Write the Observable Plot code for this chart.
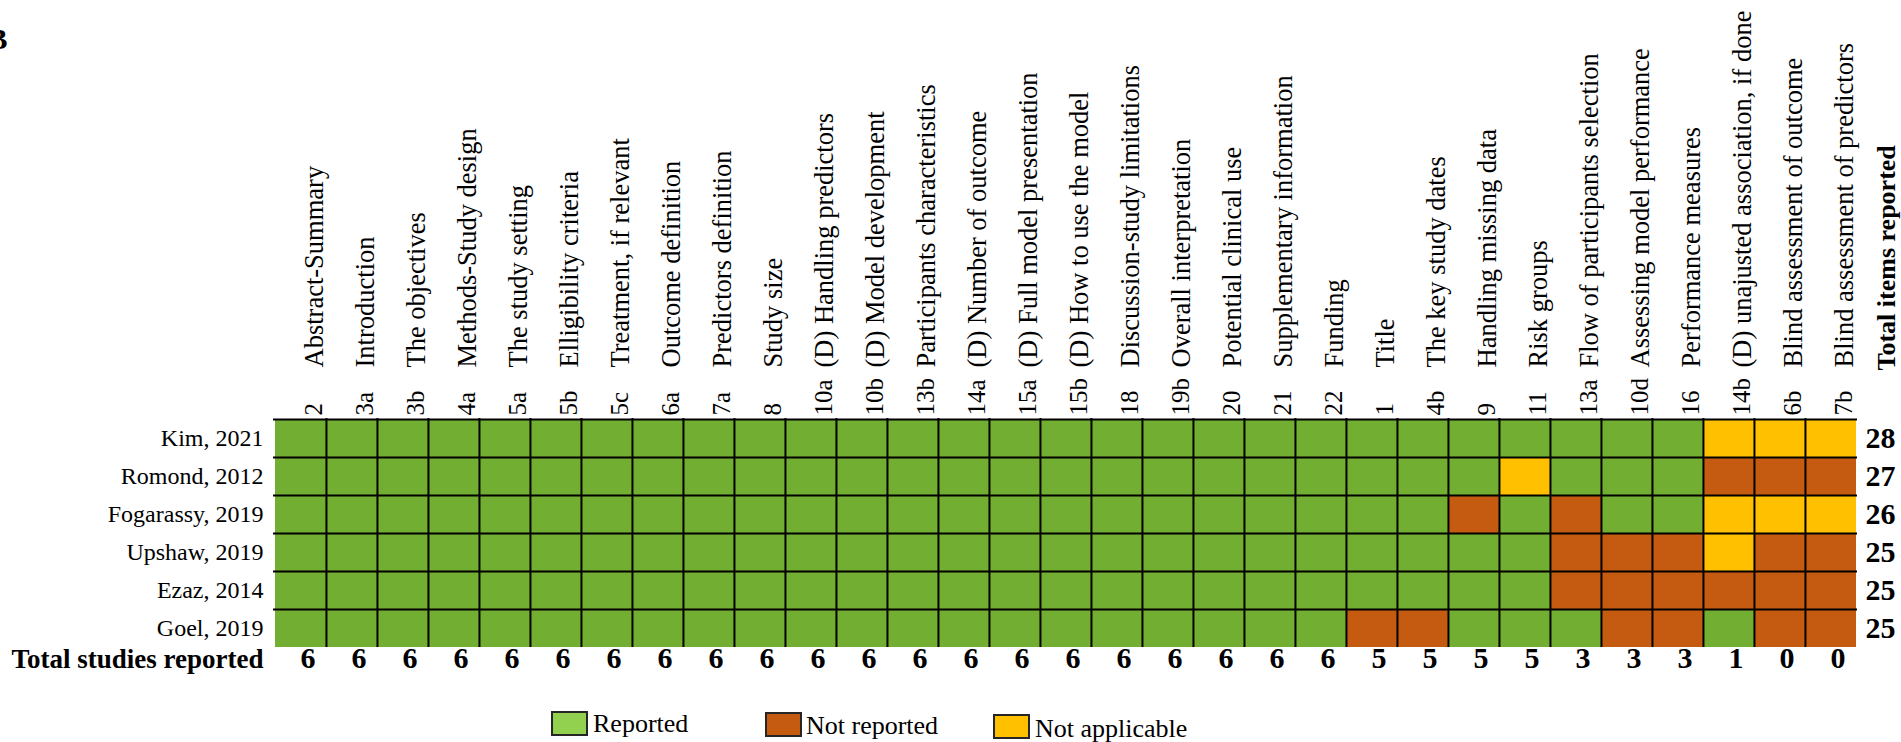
<!DOCTYPE html>
<html>
<head>
<meta charset="utf-8">
<script src="https://cdn.jsdelivr.net/npm/d3@7"></script>
<script src="https://cdn.jsdelivr.net/npm/@observablehq/plot@0.6"></script>
<style>
  body { margin: 0; background: #fff; }
  #chart { width: 1901px; }
  .legend { position: relative; width: 1901px; height: 42px; font-family: "Liberation Serif", serif; font-size: 26px; color: #000; overflow: hidden; }
  .legend .box { position: absolute; width: 37px; height: 25px; box-sizing: border-box; border: 2px solid #262626; }
  .legend .lab { position: absolute; line-height: 26px; white-space: nowrap; }
</style>
</head>
<body>
<div id="chart"></div>
<div class="legend" id="legend"></div>
<script>
// ---- data ----
const studies = ["Kim, 2021", "Romond, 2012", "Fogarassy, 2019", "Upshaw, 2019", "Ezaz, 2014", "Goel, 2019"];
const codes = ["2","3a","3b","4a","5a","5b","5c","6a","7a","8","10a","10b","13b","14a","15a","15b","18","19b","20","21","22","1","4b","9","11","13a","10d","16","14b","6b","7b"];
const items = [
  "Abstract-Summary", "Introduction", "The objectives", "Methods-Study design", "The study setting",
  "Elligibility criteria", "Treatment, if relevant", "Outcome definition", "Predictors definition", "Study size",
  "(D) Handling predictors", "(D) Model development", "Participants characteristics", "(D) Number of outcome",
  "(D) Full model presentation", "(D) How to use the model", "Discussion-study limitations", "Overall interpretation",
  "Potential clinical use", "Supplementary information", "Funding", "Title", "The key study dates",
  "Handling missing data", "Risk groups", "Flow of participants selection", "Assessing model performance",
  "Performance measures", "(D) unajusted association, if done", "Blind assessment of outcome", "Blind assessment of predictors"
];
// R = Reported, N = Not reported, A = Not applicable (one character per item, in column order)
const statusKim       = "RRRRRRRRRRRRRRRRRRRRRRRRRRRRAAA";
const statusRomond    = "RRRRRRRRRRRRRRRRRRRRRRRRARRRNNN";
const statusFogarassy = "RRRRRRRRRRRRRRRRRRRRRRRNRNRRAAA";
const statusUpshaw    = "RRRRRRRRRRRRRRRRRRRRRRRRRNNNANN";
const statusEzaz      = "RRRRRRRRRRRRRRRRRRRRRRRRRNNNNNN";
const statusGoel      = "RRRRRRRRRRRRRRRRRRRRRNNRRRNNRNN";
const statusRows = [statusKim, statusRomond, statusFogarassy, statusUpshaw, statusEzaz, statusGoel];
const rowTotals = [28, 27, 26, 25, 25, 25];
const colTotals = [6,6,6,6,6,6,6,6,6,6,6,6,6,6,6,6,6,6,6,6,6,5,5,5,5,3,3,3,1,0,0];
const statusKeys = ["R", "N", "A"];
const statusLabels = ["Reported", "Not reported", "Not applicable"];
const cellColors = ["#72AE31", "#C55A11", "#FFC000"];
const legendColors = ["#92D050", "#C55A11", "#FFC000"];

// ---- layout ----
const W = 1901, H = 700, mL = 273, mR = 44, mT = 418, mB = 53;
const bw = (W - mL - mR) / codes.length;
const bh = (H - mT - mB) / studies.length;

const cells = studies.flatMap((s, i) => codes.map((c, j) => ({study: s, code: c, status: statusRows[i][j]})));

const chart = Plot.plot({
  width: W, height: H,
  marginLeft: mL, marginRight: mR, marginTop: mT, marginBottom: mB,
  x: {type: "band", domain: codes, padding: 0, axis: null},
  y: {type: "band", domain: studies, padding: 0, axis: null},
  color: {domain: statusKeys, range: cellColors},
  style: {fontFamily: "'Liberation Serif', 'Times New Roman', serif", fontSize: "26px", background: "#fff", color: "#000", overflow: "visible"},
  marks: [
    Plot.cell(cells, {x: "code", y: "study", fill: "status", inset: 0}),
    Plot.ruleX(codes.slice(1), {x: d => d, dx: -bw / 2, stroke: "#000", strokeWidth: 2}),
    Plot.ruleY(studies, {y: d => d, dy: -bh / 2, stroke: "#000", strokeWidth: 2}),
    // column codes and item names
    Plot.text(codes, {x: d => d, text: d => d, frameAnchor: "top", rotate: -90, textAnchor: "start", dx: 3, dy: -3, fontSize: 25}),
    Plot.text(codes, {x: d => d, text: (d, i) => items[i], frameAnchor: "top", rotate: -90, textAnchor: "start", dx: 3, dy: -51, fontSize: 26.5}),
    // study labels
    Plot.text(studies, {y: d => d, text: d => d, frameAnchor: "left", textAnchor: "end", dx: -10, fontSize: 24}),
    // row totals
    Plot.text(studies, {y: d => d, text: (d, i) => rowTotals[i], frameAnchor: "right", textAnchor: "start", dx: 8, fontWeight: "bold", fontSize: 30}),
    // column totals
    Plot.text(codes, {x: d => d, text: (d, i) => colTotals[i], frameAnchor: "bottom", dx: 7, dy: 20, fontWeight: "bold", fontSize: 30}),
    Plot.text(["Total studies reported"], {frameAnchor: "bottom-left", textAnchor: "end", dx: -10, dy: 20, fontWeight: "bold", fontSize: 27}),
    Plot.text(["Total items reported"], {frameAnchor: "top-right", rotate: -90, textAnchor: "start", dx: 19, dy: -48, fontWeight: "bold", fontSize: 26}),
    Plot.text(["B"], {frameAnchor: "top-left", textAnchor: "end", dx: -266, dy: -391, fontWeight: "bold", fontSize: 30})
  ]
});
document.getElementById("chart").appendChild(chart);

// ---- legend (below the SVG) ----
const legendBoxX = [551, 765, 993];
const legendBoxTop = [11, 12, 14];
const legendTextX = [593, 806, 1035];
const legendTextTop = [11, 13, 16];
const lg = document.getElementById("legend");
statusKeys.forEach((k, i) => {
  const b = document.createElement("div");
  b.className = "box";
  b.style.left = legendBoxX[i] + "px";
  b.style.top = legendBoxTop[i] + "px";
  b.style.background = legendColors[i];
  lg.appendChild(b);
  const t = document.createElement("div");
  t.className = "lab";
  t.style.left = legendTextX[i] + "px";
  t.style.top = legendTextTop[i] + "px";
  t.textContent = statusLabels[i];
  lg.appendChild(t);
});
</script>
</body>
</html>
